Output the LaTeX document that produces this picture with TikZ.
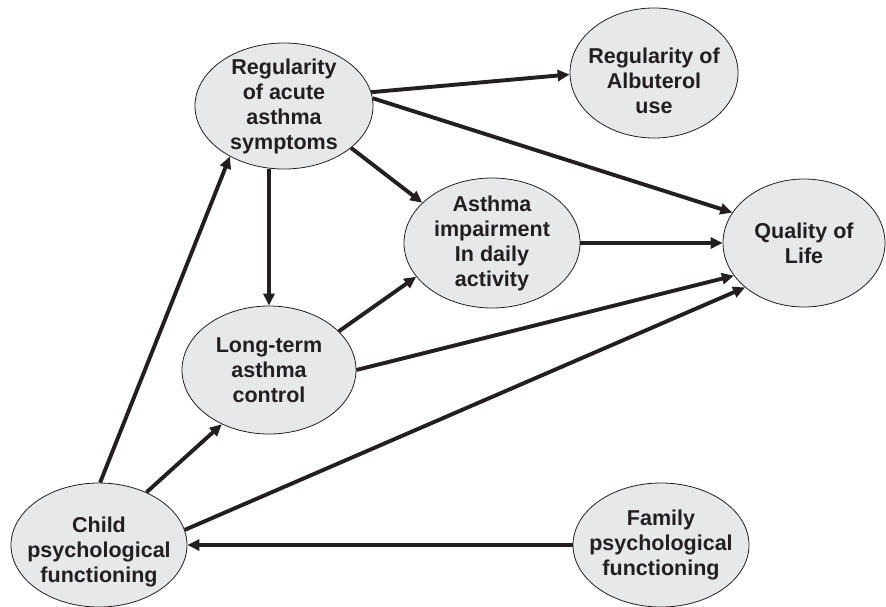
\documentclass[tikz,border=0pt]{standalone}
\usepackage{fontspec}
\setmainfont{Liberation Sans}
\usetikzlibrary{shapes.geometric,arrows.meta}
\definecolor{nodefill}{HTML}{E7E8EA}
\definecolor{ink}{HTML}{231F20}
\begin{document}
\begin{tikzpicture}[x=1pt,y=-1pt,
  oval/.style={ellipse, draw=ink, line width=0.8pt, fill=nodefill, inner sep=0pt},
  lbl/.style={align=center, text=ink, font=\fontsize{21.5}{25}\selectfont\bfseries, inner sep=0pt},
  arr/.style={draw=ink, line width=3.9pt, -{Triangle[length=12pt,width=11pt]}}]
\useasboundingbox (0,0) rectangle (886,606);
\node[oval, minimum width=178pt, minimum height=126pt] (ras) at (284,106) {};
\node[oval, minimum width=168pt, minimum height=130pt] (rau) at (654,73) {};
\node[oval, minimum width=176pt, minimum height=130pt] (aida) at (492,243) {};
\node[oval, minimum width=162pt, minimum height=128pt] (qol) at (804,243) {};
\node[oval, minimum width=174pt, minimum height=128pt] (ltc) at (269,370) {};
\node[oval, minimum width=176pt, minimum height=124pt] (child) at (99,545) {};
\node[oval, minimum width=176pt, minimum height=124pt] (family) at (661,545) {};

\node[lbl] (ras-t) at (ras) {Regularity\\of acute\\asthma\\symptoms};
\node[lbl] (rau-t) at (654,81) {Regularity of\\Albuterol\\use};
\node[lbl] (aida-t) at (aida) {Asthma\\impairment\\In daily\\activity};
\node[lbl] (qol-t) at (qol) {Quality of\\Life};
\node[lbl] (ltc-t) at (ltc) {Long-term\\asthma\\control};
\node[lbl] (child-t) at (99,552) {Child\\psychological\\functioning};
\node[lbl] (family-t) at (family) {Family\\psychological\\functioning};

\draw[arr] (ras.9) -- (rau.181);
\draw[arr] (ras.5) -- (qol.157);
\draw[arr] (ras.-32) -- (aida.150);
\draw[arr] (ras.south -| ltc.north) -- (ltc.north);
\draw[arr] (aida.east) -- (qol.west);
\draw[arr] (ltc.29) -- (aida.204);
\draw[arr] (ltc.east) -- (qol.205);
\draw[arr] (child.10) -- (qol.217);
\draw[arr] (child.89) -- (ras.223);
\draw[arr] (child.48) -- (ltc.229);
\draw[arr] (family.west) -- (child.east);
\end{tikzpicture}
\end{document}
